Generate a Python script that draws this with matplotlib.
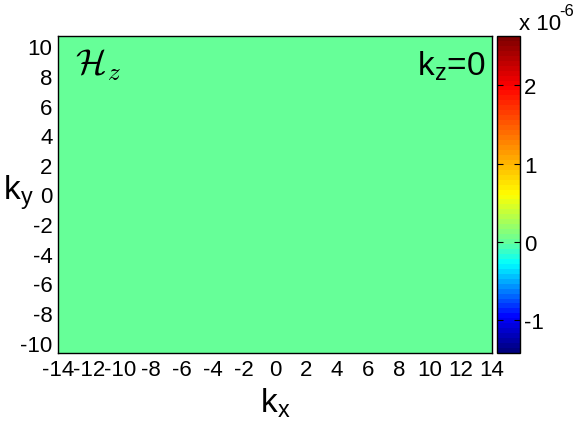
import numpy as np
import matplotlib
matplotlib.use("Agg")
import matplotlib.pyplot as plt
from matplotlib.colors import LinearSegmentedColormap

plt.rcParams["font.family"] = ["Liberation Sans", "DejaVu Sans"]
plt.rcParams["mathtext.fontset"] = "custom"
plt.rcParams["mathtext.rm"] = "Liberation Sans"
plt.rcParams["mathtext.it"] = "Liberation Sans"
plt.rcParams["axes.unicode_minus"] = False

# Grid and field values (field is flat at ~0 everywhere)
KX = np.arange(-14, 15, 1)
KY = np.arange(-10, 11, 1)
HZ_LEVEL = 0.0  # x 1e-6

XLIM = (-14, 14)
YLIM = (-10.7, 10.7)
CLIM = (-1.42, 2.63)  # x 1e-6
XTICKS = list(range(-14, 15, 2))
YTICKS = list(range(-10, 11, 2))
CTICKS = [-1, 0, 1, 2]

# colormap stops (jet-like)
CMAP_STOPS = [
    (0.0, (0.0, 0.0, 0.5)),
    (0.107, (0.0, 0.0, 1.0)),
    (0.28, (0.0, 1.0, 1.0)),
    (0.349, (0.4, 1.0, 0.6)),
    (0.5, (1.0, 1.0, 0.0)),
    (0.845, (1.0, 0.0, 0.0)),
    (1.0, (0.5, 0.0, 0.0)),
]

cmap = LinearSegmentedColormap.from_list("jetlike", CMAP_STOPS, N=64)

hz = np.full((len(KY), len(KX)), HZ_LEVEL)

fig = plt.figure(figsize=(5.78, 4.35), dpi=100)
ax = fig.add_axes([58 / 578, 81 / 435, 434 / 578, 317 / 435])
cax = fig.add_axes([497 / 578, 81 / 435, 23 / 578, 317 / 435])

# stretch the flat field over the whole visible box
mesh = ax.imshow(
    hz,
    cmap=cmap,
    vmin=CLIM[0],
    vmax=CLIM[1],
    extent=[XLIM[0], XLIM[1], YLIM[0], YLIM[1]],
    origin="lower",
    aspect="auto",
    interpolation="nearest",
)
ax.set_xlim(*XLIM)
ax.set_ylim(*YLIM)
ax.set_xticks(XTICKS)
ax.set_yticks(YTICKS)
ax.tick_params(length=0, labelsize=16, pad=4)
for s in ax.spines.values():
    s.set_linewidth(1.0)

ax.set_xlabel(r"k$_{\mathregular{x}}$", fontsize=24, labelpad=4)
fig.text(3 / 578, 1 - 193 / 435, r"k$_{\mathregular{y}}$", fontsize=24,
         ha="left", va="center")

ax.text(0.985, 0.96, r"k$_{\mathregular{z}}$=0", transform=ax.transAxes,
        ha="right", va="top", fontsize=24)
ax.text(0.04, 0.965, r"$\mathcal{H}_z$", transform=ax.transAxes,
        ha="left", va="top", fontsize=26, math_fontfamily="cm")

cb = fig.colorbar(mesh, cax=cax, ticks=CTICKS)
cb.ax.tick_params(direction="in", length=4, labelsize=16, left=True, right=True, pad=3)
cb.ax.set_yticklabels([str(t) for t in CTICKS])
cb.outline.set_linewidth(1.0)

# exponent label above the colourbar, MATLAB style
fig.text(519 / 578, 1 - 30 / 435, "x 10", fontsize=16, ha="left", va="baseline")
fig.text(559 / 578, 1 - 16 / 435, "-6", fontsize=12, ha="left", va="baseline")

fig.savefig("out.png", dpi=100)
